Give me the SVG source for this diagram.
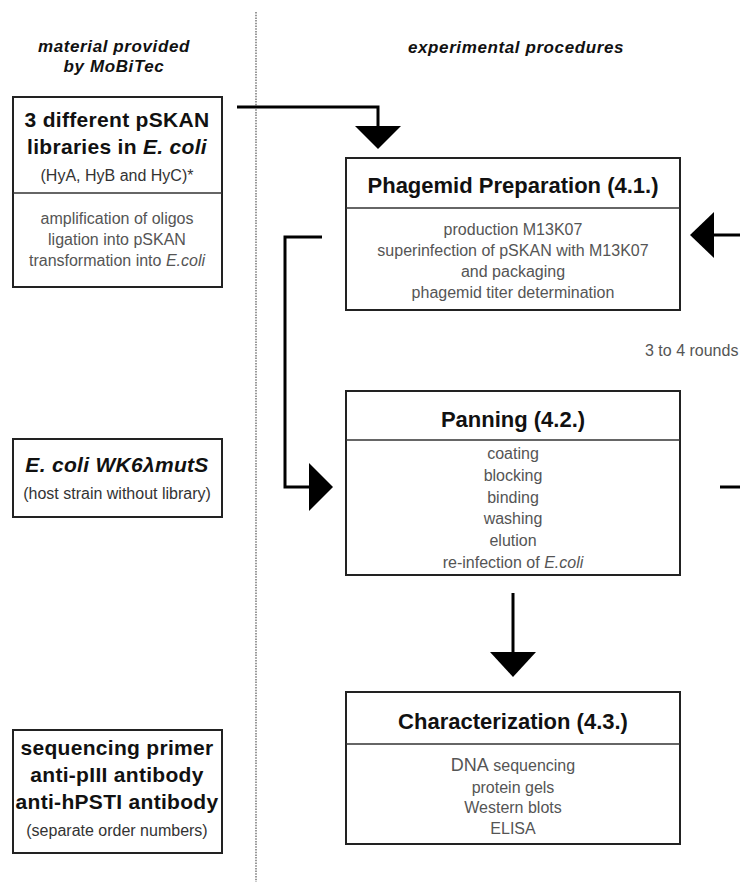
<svg xmlns="http://www.w3.org/2000/svg" width="740" height="882" viewBox="0 0 740 882">
<style>
text{font-family:"Liberation Sans",Arial,sans-serif;text-anchor:middle}
.hdr{font-size:17px;font-weight:bold;font-style:italic;fill:#111;letter-spacing:0.6px}
.box{fill:#fff;stroke:#222;stroke-width:2}
.div{stroke:#333;stroke-width:1.5}
.big{font-size:21px;font-weight:bold;fill:#111;letter-spacing:0.3px}
.title{font-size:22px;font-weight:bold;fill:#111}
.sub{font-size:16px;fill:#333}
.body{font-size:16px;fill:#555}
.line{fill:none;stroke:#000;stroke-width:3}
.head{fill:#000}
</style>
<rect width="740" height="882" fill="#fff"/>
<line x1="256" y1="12" x2="256" y2="882" stroke="#555" stroke-width="1.2" stroke-dasharray="1.5 1.2"/>
<g id="headers">
<text class="hdr" x="114" y="52">material provided</text>
<text class="hdr" x="114" y="72">by MoBiTec</text>
<text class="hdr" x="516" y="53">experimental procedures</text>
</g>
<g id="pskan-libraries">
<rect class="box" x="13" y="97" width="209" height="190"/>
<line class="div" x1="13" y1="193" x2="222" y2="193"/>
<text class="big" x="117" y="127">3 different pSKAN</text>
<text class="big" x="117" y="154">libraries in <tspan font-style="italic">E. coli</tspan></text>
<text class="sub" x="117" y="181">(HyA, HyB and HyC)*</text>
<text class="body" x="117" y="224">amplification of oligos</text>
<text class="body" x="117" y="245">ligation into pSKAN</text>
<text class="body" x="117" y="266">transformation into <tspan font-style="italic">E.coli</tspan></text>
</g>
<g id="host-strain">
<rect class="box" x="13" y="439" width="209" height="78"/>
<text class="big" x="117" y="472" font-style="italic" font-size="20">E. coli WK6λmutS</text>
<text class="sub" x="117" y="499">(host strain without library)</text>
</g>
<g id="reagents">
<rect class="box" x="13" y="730" width="209" height="123"/>
<text class="big" x="117" y="755" font-size="20">sequencing primer</text>
<text class="big" x="117" y="782" font-size="20">anti-pIII antibody</text>
<text class="big" x="117" y="809" font-size="20">anti-hPSTI antibody</text>
<text class="sub" x="117" y="836">(separate order numbers)</text>
</g>
<g id="phagemid-preparation">
<rect class="box" x="346" y="158" width="334" height="152"/>
<line class="div" x1="346" y1="208" x2="680" y2="208"/>
<text class="title" x="513" y="193">Phagemid Preparation (4.1.)</text>
<text class="body" x="513" y="235">production M13K07</text>
<text class="body" x="513" y="256">superinfection of pSKAN with M13K07</text>
<text class="body" x="513" y="277">and packaging</text>
<text class="body" x="513" y="298">phagemid titer determination</text>
</g>
<g id="panning">
<rect class="box" x="346" y="391" width="334" height="184"/>
<line class="div" x1="346" y1="440" x2="680" y2="440"/>
<text class="title" x="513" y="427">Panning (4.2.)</text>
<text class="body" x="513" y="459">coating</text>
<text class="body" x="513" y="481">blocking</text>
<text class="body" x="513" y="503">binding</text>
<text class="body" x="513" y="524">washing</text>
<text class="body" x="513" y="546">elution</text>
<text class="body" x="513" y="568">re-infection of <tspan font-style="italic">E.coli</tspan></text>
</g>
<g id="characterization">
<rect class="box" x="346" y="692" width="334" height="152"/>
<line class="div" x1="346" y1="744" x2="680" y2="744"/>
<text class="title" x="513" y="729">Characterization (4.3.)</text>
<text class="body" x="513" y="771"><tspan font-size="18">DNA</tspan> sequencing</text>
<text class="body" x="513" y="793">protein gels</text>
<text class="body" x="513" y="813">Western blots</text>
<text class="body" x="513" y="834">ELISA</text>
</g>
<g id="connectors">
<polyline class="line" points="237,107 378,107 378,128"/>
<polygon class="head" points="355,126 401,126 378,149"/>
<polyline class="line" points="322,237 285,237 285,487 311,487"/>
<polygon class="head" points="309,463 333,487 309,511"/>
<line class="line" x1="713" y1="235" x2="740" y2="235"/>
<polygon class="head" points="714,212 690,235 714,258"/>
<line class="line" x1="720" y1="487" x2="740" y2="487"/>
<line class="line" x1="513" y1="593" x2="513" y2="654"/>
<polygon class="head" points="490,652 536,652 513,677"/>
<text class="body" x="645" y="356" style="text-anchor:start">3 to 4 rounds</text>
</g>
</svg>
